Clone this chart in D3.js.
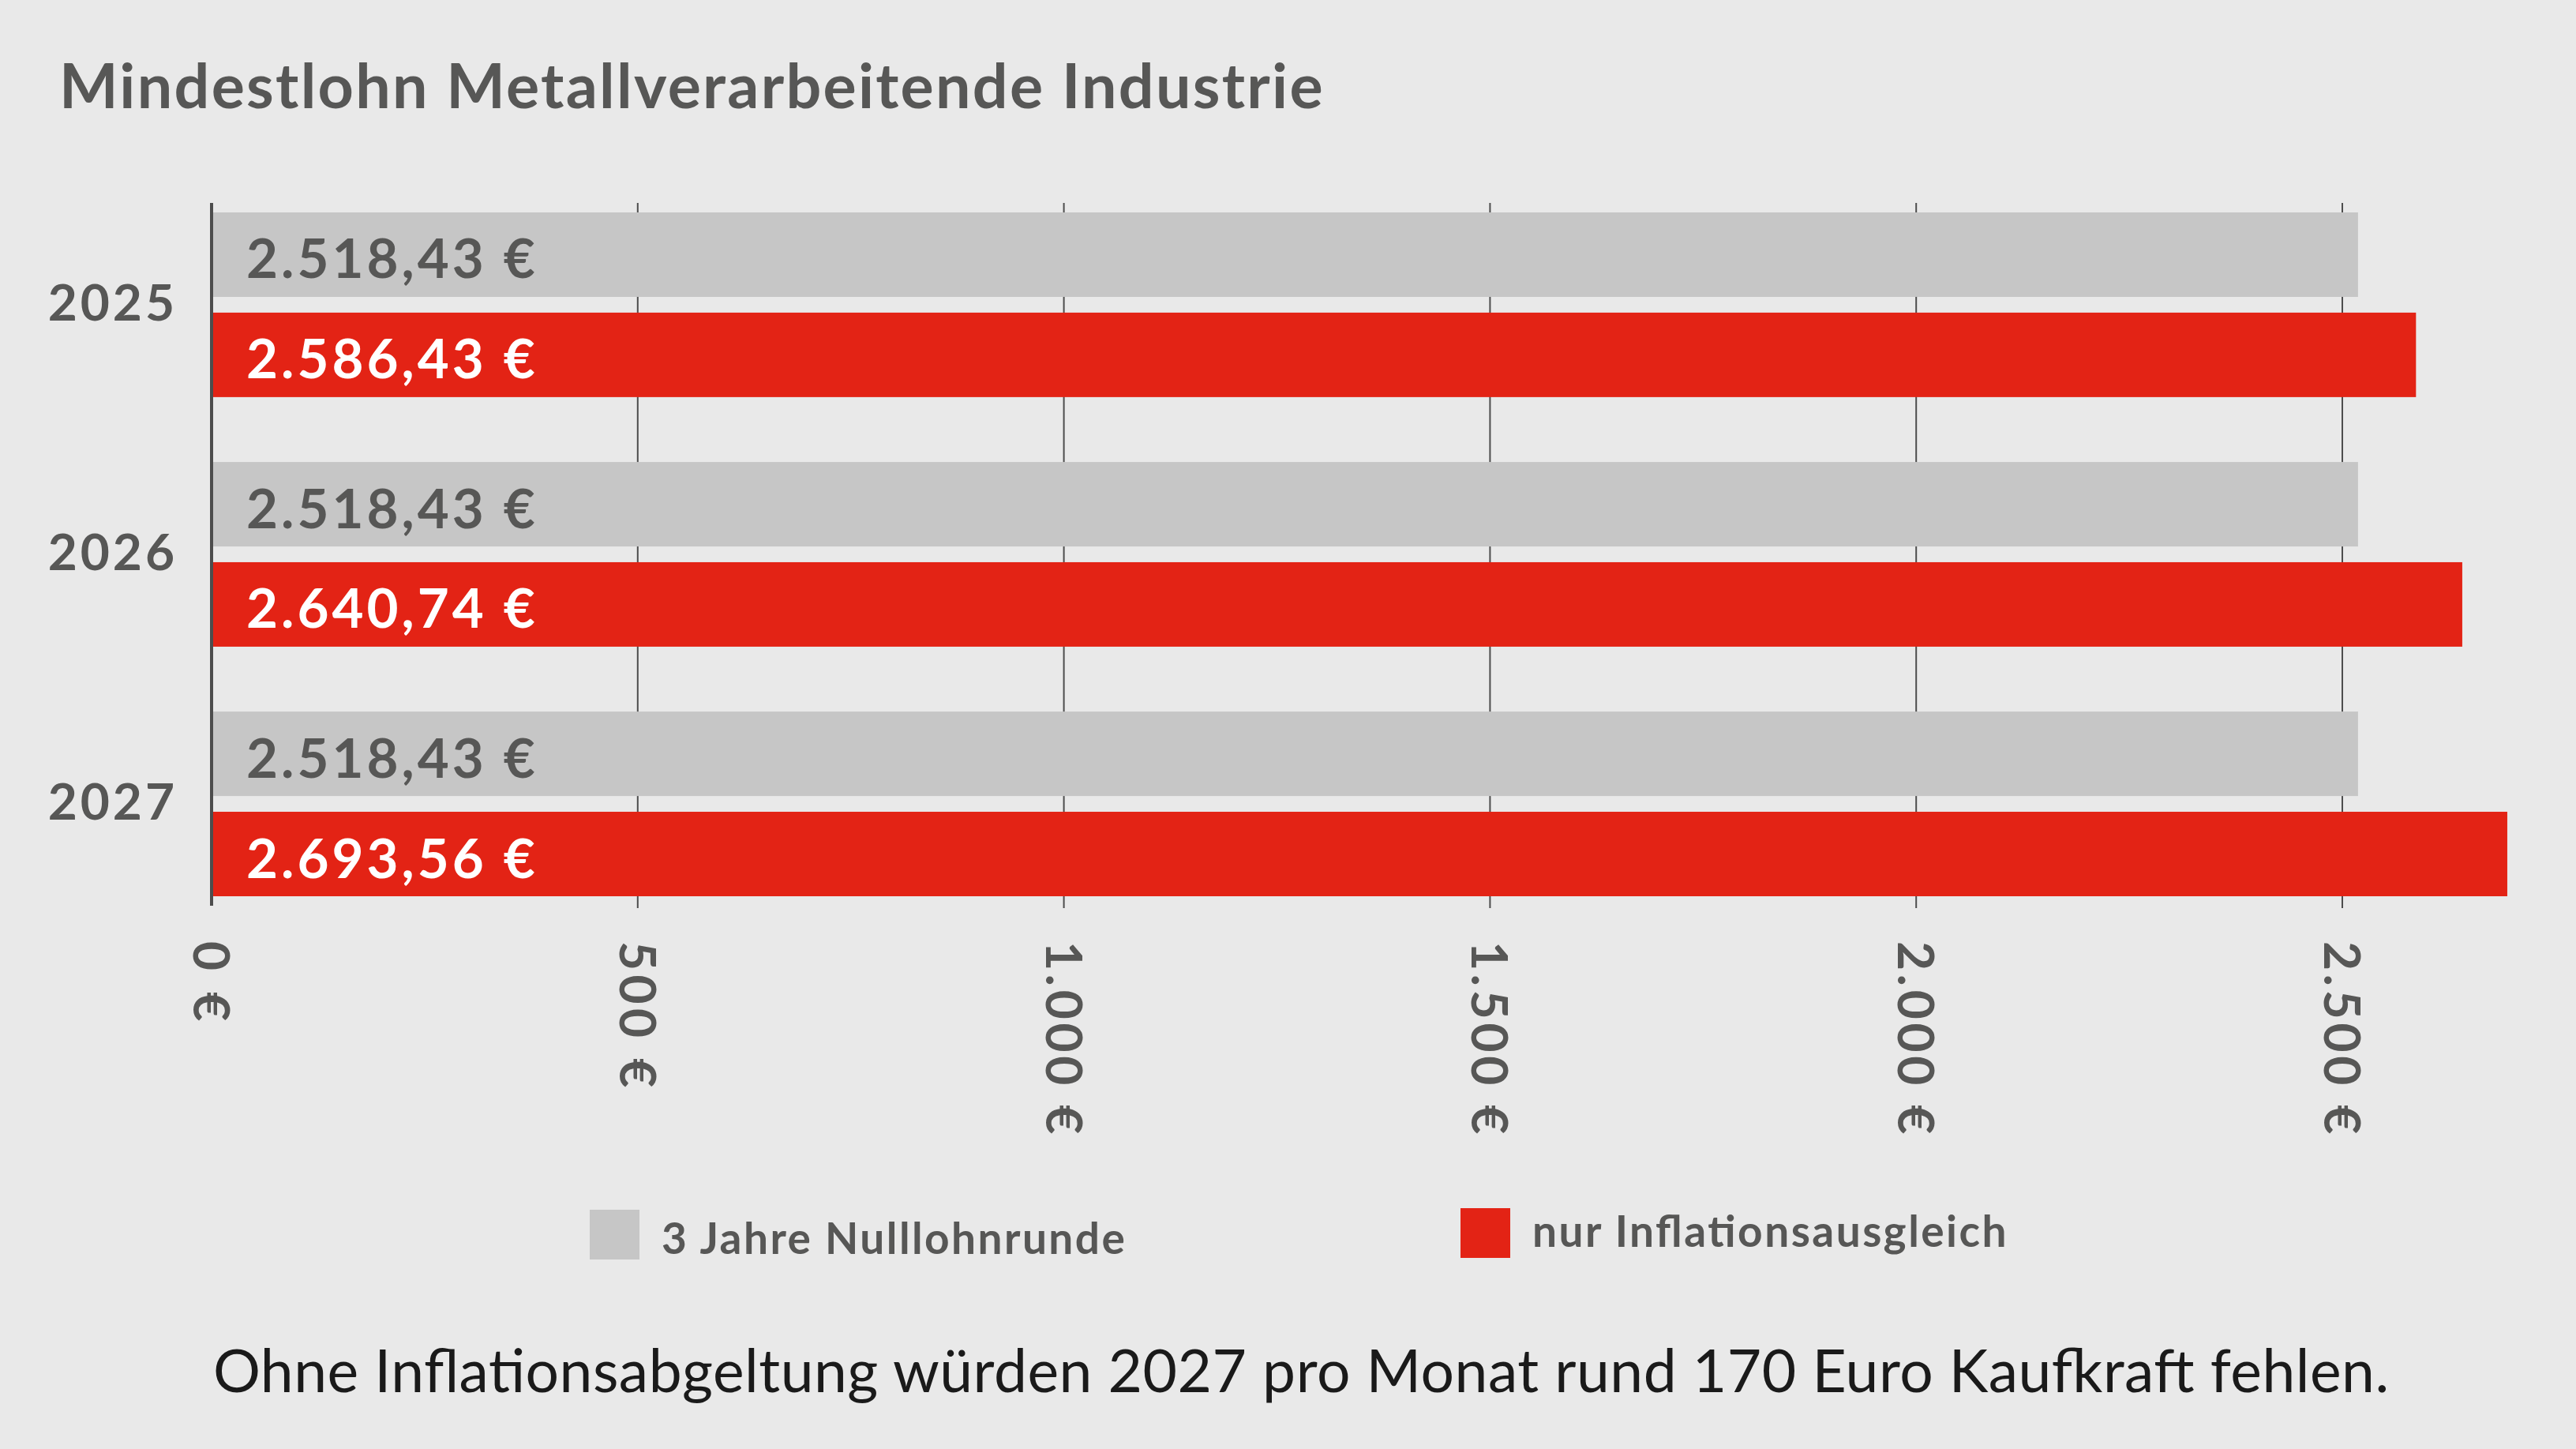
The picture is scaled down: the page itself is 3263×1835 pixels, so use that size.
<!DOCTYPE html>
<html>
<head>
<meta charset="utf-8">
<script src="https://cdn.jsdelivr.net/npm/d3@7"></script>
<style>
  html, body { margin: 0; padding: 0; background: #e9e9e9; }
  svg { display: block; }
</style>
</head>
<body>
<script>
// ---- data ----
const years = ["2025", "2026", "2027"];
const seriesNames = ["3 Jahre Nulllohnrunde", "nur Inflationsausgleich"];
const nullrunde = [2518.43, 2518.43, 2518.43];
const inflation = [2586.43, 2640.74, 2693.56];
const tickValues = [0, 500, 1000, 1500, 2000, 2500];
const title = "Mindestlohn Metallverarbeitende Industrie";
const footnote = "Ohne Inflationsabgeltung würden 2027 pro Monat rund 170 Euro Kaufkraft fehlen.";

// ---- styles ----
const W = 3263, H = 1835;
const BG = "#e9e9e9", GREY = "#c6c6c6", RED = "#e32315", TXT = "#575756";
const FONT = "Lato, 'Open Sans', sans-serif";

const de = d3.formatLocale({decimal: ",", thousands: ".", grouping: [3], currency: ["", " €"]});
const fmtVal = de.format("$,.2f");
const fmtTick = de.format("$,.0f");

// widen glyph spacing so the substitute font matches the original text widths
function widen(sel, ratio) {
  sel.each(function() {
    const len = this.getComputedTextLength();
    d3.select(this).attr("textLength", len * ratio).attr("lengthAdjust", "spacing");
  });
}

const svg = d3.select("body").append("svg").attr("width", W).attr("height", H);
svg.append("rect").attr("width", W).attr("height", H).attr("fill", BG);

const x = d3.scaleLinear().domain([0, 2500]).range([268, 2967]);
const y = d3.scaleBand().domain(years).range([269, 1135]).paddingInner(0.26).paddingOuter(0);
const ySub = d3.scaleBand().domain(seriesNames).range([0, y.bandwidth()]).paddingInner(0.157);

// title
svg.append("text").attr("x", 75).attr("y", 137)
  .attr("font-family", FONT).attr("font-weight", 700).attr("font-size", 79)
  .attr("fill", TXT).text(title).call(widen, 1.06);

// gridlines
const grid = svg.append("g");
grid.selectAll("line").data(tickValues.filter(d => d > 0)).join("line")
  .attr("x1", d => x(d)).attr("x2", d => x(d))
  .attr("y1", 257).attr("y2", 1150)
  .attr("stroke", "#4d4d4d").attr("stroke-width", 2);

// tick labels (rotated)
svg.append("g").selectAll("text").data(tickValues).join("text")
  .attr("transform", d => `translate(${x(d)},1192) rotate(90)`)
  .attr("dy", "0.36em")
  .attr("font-family", FONT).attr("font-weight", 700).attr("font-size", 64)
  .attr("fill", TXT).text(d => fmtTick(d)).call(widen, 1.13);

// bars
const rows = years.map((yr, i) => ({year: yr, vals: [
  {s: seriesNames[0], v: nullrunde[i]},
  {s: seriesNames[1], v: inflation[i]}
]}));

const g = svg.append("g").selectAll("g").data(rows).join("g")
  .attr("transform", d => `translate(0,${y(d.year)})`);

g.selectAll("rect").data(d => d.vals).join("rect")
  .attr("x", x(0)).attr("y", d => ySub(d.s))
  .attr("width", d => x(d.v) - x(0)).attr("height", ySub.bandwidth())
  .attr("fill", (d, i) => i === 0 ? GREY : RED);

g.selectAll("text.val").data(d => d.vals).join("text").attr("class", "val")
  .attr("x", x(0) + 44)
  .attr("y", d => ySub(d.s) + ySub.bandwidth() / 2 + 30)
  .attr("font-family", FONT).attr("font-weight", 700).attr("font-size", 69)
  .attr("fill", (d, i) => i === 0 ? TXT : "#ffffff")
  .text(d => fmtVal(d.v)).call(widen, 1.11);

// year labels
svg.append("g").selectAll("text").data(years).join("text")
  .attr("x", 221).attr("y", d => y(d) + y.bandwidth() / 2 + 20)
  .attr("text-anchor", "end")
  .attr("font-family", FONT).attr("font-weight", 700).attr("font-size", 64)
  .attr("fill", TXT).text(d => d).call(widen, 1.08);

// axis line at zero
svg.append("line").attr("x1", x(0)).attr("x2", x(0)).attr("y1", 257).attr("y2", 1147)
  .attr("stroke", "#4d4d4d").attr("stroke-width", 4);

// legend
const legendItems = [
  {name: seriesNames[0], color: GREY, sx: 747, sy: 1532, tx: 838, ty: 1588},
  {name: seriesNames[1], color: RED, sx: 1850, sy: 1530, tx: 1941, ty: 1579}
];
const lg = svg.append("g").selectAll("g").data(legendItems).join("g");
lg.append("rect").attr("x", d => d.sx).attr("y", d => d.sy).attr("width", 63).attr("height", 63)
  .attr("fill", d => d.color);
lg.append("text").attr("x", d => d.tx).attr("y", d => d.ty)
  .attr("font-family", FONT).attr("font-weight", 700).attr("font-size", 55)
  .attr("fill", TXT).text(d => d.name).call(widen, 1.09);

// footnote
svg.append("text").attr("x", 270).attr("y", 1763)
  .attr("font-family", FONT).attr("font-weight", 400).attr("font-size", 75)
  .attr("fill", "#1a1a1a").text(footnote).call(widen, 1.013);
</script>
</body>
</html>
